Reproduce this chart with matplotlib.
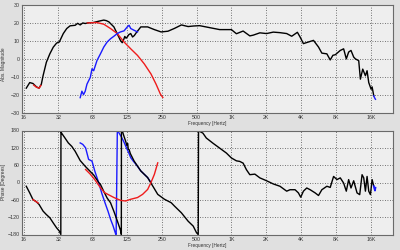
import matplotlib
matplotlib.use("Agg")
import matplotlib.pyplot as plt

# --- datos ---
tick_f = [16, 32, 63, 125, 250, 500, 1000, 2000, 4000, 8000, 16000]
tick_lbl = ['16', '32', '63', '125', '250', '500', '1K', '2K', '4K', '8K', '16K']
mag_ticks = [30, 20, 10, 0, -10, -20, -30]
fase_ticks = [180, 120, 60, 0, -60, -120, -180]

# magnitud (negro = respuesta total)
mag_negro_f = [16.9, 18.1, 19.3, 20.7, 21.8, 22.8, 23.6, 25.2, 27.0, 28.9, 30.9, 32.6, 35.3,
               37.8, 40.4, 44.7, 47.0, 49.4, 52.0, 54.6, 58.4, 63.7, 73.9, 79.0, 83.0, 87.4,
               96.6, 103, 110, 114, 117, 120, 123, 126, 130, 135, 140, 145, 150, 165, 189,
               216, 247, 283, 323, 370, 423, 470, 531, 648, 792, 1000, 1105, 1263, 1443,
               1542, 1762, 2014, 2301, 2628, 3004, 3319, 3717, 3920, 4190, 4632, 5120, 5657,
               6047, 6682, 7142, 7533, 7895, 8724, 9326, 9834, 10303, 10796, 11391, 11778,
               12589, 13015, 13635, 14384, 14865, 15369, 16110, 16430, 16990]
mag_negro = [-16.3, -13.2, -13.7, -15.6, -16.3, -14.1, -9.4, -1.9, 2.8, 6.5, 8.8, 9.4, 14.1,
             16.9, 18.4, 18.7, 19.8, 18.9, 20.0, 19.7, 20.1, 20.2, 21.2, 21.6, 21.3, 20.6,
             17.8, 14.1, 10.3, 9.0, 10.5, 12.5, 11.5, 12.2, 13.5, 14.1, 12.2, 13.0, 14.4,
             17.8, 17.8, 16.3, 15.0, 15.4, 17.0, 18.9, 18.0, 18.3, 18.5, 17.4, 16.3, 16.3,
             14.0, 15.5, 12.8, 13.2, 14.5, 14.1, 14.9, 14.6, 14.1, 12.6, 14.8, 12.2, 8.5,
             9.4, 10.3, 6.6, 3.2, 2.8, -0.6, 2.0, 2.3, 4.7, 5.6, 0.0, 3.8, 4.7, 1.0, 0.0,
             -1.0, -11.3, -5.7, -9.4, -6.6, -13.2, -16.9, -15.6, -20.6]

# magnitud (rojo = via de graves)
mag_rojo_f = [57, 60.4, 69.0, 79.0, 90.3, 103.3, 118.2, 135, 154.6, 176.8, 202, 223.5, 244, 255.7]
mag_rojo = [20.0, 20.1, 20.2, 19.3, 16.9, 14.1, 9.4, 5.6, 1.9, -2.8, -8.4, -14.1, -19.7, -21.5]
mag_rojo2_f = [19.6, 20.7, 21.8, 22.6]
mag_rojo2 = [-14.6, -15.8, -16.3, -14.8]

# magnitud (azul = via de agudos)
mag_azul_f = [49.4, 51.1, 52.8, 54.6, 56.5, 58.4, 60.4, 62.5, 64.6, 69.0, 73.9, 79.0, 84.5,
              90.3, 96.6, 103.3, 110, 118.2, 126, 130.7, 135, 144.5, 154.6]
mag_azul = [-21.6, -18.0, -19.9, -18.0, -14.1, -12.2, -10.3, -5.5, -6.6, -0.9, 2.8, 6.6, 9.4,
            11.2, 12.6, 14.1, 15.0, 15.6, 17.8, 18.7, 16.9, 15.9, 15.0]
mag_azul2_f = [16990, 17300, 17560]
mag_azul2 = [-20.6, -21.8, -22.5]

# fase (negro)
fase_negro_f = [16.9, 18.1, 19.3, 20.7, 21.8, 23.6, 25.2, 27.0, 28.9, 30.9, 32.6, 33.6,
                33.7, 34.1, 36.5, 39.0, 41.8, 44.7, 49.4, 54.6, 60.4, 64.6, 71.4, 73.8, 79.0,
                84.5, 90.3, 96.6, 103.4, 110.5, 112,
                112.2, 114.3, 118, 122, 125, 127, 128.5, 130.7, 134, 144.5, 165, 189, 209,
                231, 264, 302, 323, 370, 423, 468, 500, 517,
                520, 531, 567, 607, 693, 792, 905, 1000, 1105, 1181, 1263, 1350, 1443,
                1595, 1762, 2014, 2301, 2628, 3004, 3211, 3548, 3792, 3973, 4190, 4479,
                4789, 5292, 5657, 6047, 6682, 7142, 7637, 8163, 8724, 9326, 9834, 10303,
                10796, 11391, 12175, 12841, 13454, 13912, 14384, 14865, 15369, 15890,
                16430, 16990]
fase_negro = [-13, -36, -59, -67, -76, -99, -111, -122, -140, -157, -168, -180,
              178, 171, 154, 137, 125, 108, 76, 56, 38, 26, 0, -6, -31,
              -54, -70, -100, -133, -167, -180,
              180, 178, 160, 143, 128, 135, 115, 114, 100, 74, 40, 17, -12,
              -41, -58, -70, -82, -105, -134, -151, -174, -180,
              180, 177, 171, 154, 136, 119, 102, 85, 75, 73, 67, 44, 27,
              29, 16, 6, -5, -13, -30, -25, -25, -36, -51, -30, -19,
              -25, -36, -45, -25, -13, -17, 21, 10, 16, -2, -30, 10,
              -19, 6, -36, -42, 27, 16, -30, 21, -30, -42,
              10, -13]

# fase (rojo)
fase_rojo_f = [55, 60, 66, 73.9, 80.1, 96.6, 110.5, 122, 135, 154.6, 171, 189, 202, 216, 231]
fase_rojo = [45, 30, 10, -18, -35, -52, -62, -64, -58, -52, -41, -24, 0, 28, 68]
fase_rojo2_f = [19.3, 20.0, 20.7, 21.4]
fase_rojo2 = [-59, -63, -67, -71]
fase_rojo3_f = [15.45, 15.5]
fase_rojo3 = [165, 100]

# fase (azul)
fase_azul_f = [49.4, 52, 55, 58.4, 62.5, 66, 71.4, 76, 81.7, 86, 90.3, 95, 100, 101,
               103.4, 106, 112, 118, 124, 130, 135, 142, 150, 165, 189, 202]
fase_azul = [137, 132, 120, 80, 74, 40, -1, -38, -75, -100, -127, -150, -178, -180,
             180, 174, 158, 140, 120, 102, 86, 74, 63, 40, 17, 0]
fase_azul2_f = [16990, 17220, 17400, 17560]
fase_azul2 = [-13, -22, -28, -18]

# --- figura ---
fondo = '#e0e0e0'
fig = plt.figure(figsize=(4, 2.5), dpi=100, facecolor=fondo)
ax1 = fig.add_axes([0.054, 0.549, 0.928, 0.431])
ax2 = fig.add_axes([0.054, 0.062, 0.928, 0.416])

fuente = 'Liberation Sans'
for ax in (ax1, ax2):
    ax.set_facecolor('#eeeeee')
    ax.set_xscale('log')
    ax.set_xlim(15.4, 24800)
    ax.set_xticks(tick_f)
    ax.set_xticklabels(tick_lbl)
    ax.minorticks_off()
    ax.grid(True, color='#4a4a4a', linestyle=(0, (1, 2)), linewidth=0.6)
    ax.tick_params(length=0, pad=1.5, labelsize=3.8, labelcolor='#333333')
    for lbl in ax.get_xticklabels() + ax.get_yticklabels():
        lbl.set_family(fuente)
    for s in ax.spines.values():
        s.set_color('#6a6a6a')
        s.set_linewidth(0.8)
    ax.set_xlabel('Frequency [Hertz]', fontsize=3.4, family=fuente, color='#333333', labelpad=1)

# magnitud
ax1.plot(mag_negro_f, mag_negro, color='black', lw=1.0)
ax1.plot(mag_rojo_f, mag_rojo, color='#ee1c1c', lw=1.0)
ax1.plot(mag_rojo2_f, mag_rojo2, color='#ee1c1c', lw=1.0)
ax1.plot(mag_azul_f, mag_azul, color='#1a1aff', lw=1.0)
ax1.plot(mag_azul2_f, mag_azul2, color='#1a1aff', lw=1.0)
ax1.set_ylim(-30, 30)
ax1.set_yticks(mag_ticks)
ax1.set_ylabel('Abs. Magnitude', fontsize=3.4, family=fuente, color='#333333')
ax1.yaxis.set_label_coords(-0.043, 0.45)

# fase
ax2.plot(fase_azul_f, fase_azul, color='#1a1aff', lw=1.0)
ax2.plot(fase_negro_f, fase_negro, color='black', lw=1.0)
ax2.plot(fase_rojo_f, fase_rojo, color='#ee1c1c', lw=1.0)
ax2.plot(fase_rojo2_f, fase_rojo2, color='#ee1c1c', lw=1.0)
ax2.plot(fase_rojo3_f, fase_rojo3, color='#ee1c1c', lw=1.0)
ax2.plot(fase_azul2_f, fase_azul2, color='#1a1aff', lw=1.3)
ax2.set_ylim(-180, 180)
ax2.set_yticks(fase_ticks)
ax2.set_ylabel('Phase [Degrees]', fontsize=3.4, family=fuente, color='#333333')
ax2.yaxis.set_label_coords(-0.043, 0.5)

fig.savefig('out.png', dpi=100, facecolor=fondo)
